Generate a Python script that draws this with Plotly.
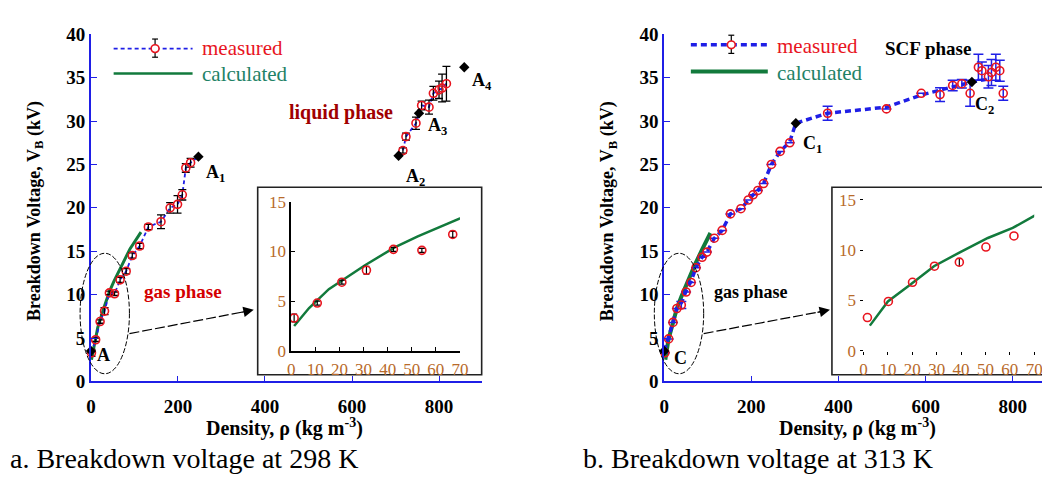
import plotly.graph_objects as go

# ---------------- data ----------------
# Panel a (298 K)
a_gas_rho = [1.2, 10.8, 21, 31.2, 42.4, 54.2, 67, 81, 95, 112, 132, 161, 182, 199, 210, 218, 229]
a_gas_V   = [3.3, 4.8, 6.9, 8.1, 10.2, 10.1, 11.7, 12.7, 14.5, 15.6, 17.8, 18.4, 20.0, 20.4, 21.5, 24.6, 25.2]
a_gas_err = [0.4, 0.2, 0.2, 0.4, 0.2, 0.2, 0.3, 0.3, 0.3, 0.3, 0.3, 0.8, 0.6, 1.0, 0.6, 0.5, 0.5]
a_liq_rho = [717, 724, 747, 760, 777, 787, 800, 807, 817]
a_liq_V   = [26.6, 28.2, 29.75, 31.8, 31.6, 33.2, 33.6, 33.8, 34.3]
a_liq_err = [0.3, 0.4, 0.7, 0.5, 0.8, 0.8, 1.0, 1.6, 2.0]
a_crit_rho = [0, 247, 707, 754, 858]
a_crit_V   = [3.5, 25.9, 26.0, 30.9, 36.2]
a_calc_rho = [1.2, 7.4, 15.6, 30.6, 42.9, 52.5, 70, 90, 115]
a_calc_V   = [2.5, 4.3, 6.2, 8.6, 10.4, 11.5, 13.3, 15.3, 17.2]

# Panel b (313 K)
b_meas_rho = [1.6, 10.2, 20.1, 29.1, 39.3, 50.2, 61.7, 73, 87, 98, 115, 133, 152, 176, 193, 204,
              215, 228, 246, 266, 288, 375, 510, 590, 633, 662, 683, 702, 721, 729, 744, 751, 761, 770, 778]
b_meas_V   = [3.3, 4.9, 6.8, 8.4, 8.8, 10.3, 11.4, 13.1, 14.3, 14.9, 16.5, 17.4, 19.3, 19.9, 20.9, 21.5,
              22.0, 22.8, 25.0, 26.5, 27.5, 30.9, 31.4, 33.2, 33.05, 34.1, 34.3, 33.2, 36.2, 35.8, 35.1, 35.6, 36.2, 35.8, 33.2]
b_meas_err = [0, 0, 0, 0, 0.4, 0, 0, 0, 0, 0, 0, 0, 0, 0, 0, 0,
              0, 0, 0, 0, 0, 0.8, 0, 0, 0.8, 0.6, 0.5, 1.5, 1.5, 1.0, 1.3, 1.5, 1.5, 1.2, 0.8]
b_trend_rho = [0, 10, 20, 29, 40, 50, 62, 73, 87, 98, 115, 133, 152, 176, 193, 204, 215, 228, 246, 266,
               288, 302, 375, 510, 590, 660, 706, 740]
b_trend_V   = [3.5, 5.0, 6.8, 8.4, 9.1, 10.4, 11.6, 13.1, 14.3, 14.9, 16.5, 17.4, 19.3, 19.9, 20.9, 21.5,
               22.0, 22.8, 25.0, 26.5, 27.6, 29.75, 30.9, 31.6, 33.0, 33.9, 34.5, 34.8]
b_crit_rho = [0, 302, 706]
b_crit_V   = [3.5, 29.75, 34.5]
b_calc_rho = [2.6, 10, 19.4, 28.9, 39.7, 51, 61.2, 70, 88, 106]
b_calc_V   = [2.5, 4.9, 6.6, 8.4, 9.8, 11.2, 12.2, 13.4, 15.3, 17.1]

main_yticks = [0, 5, 10, 15, 20, 25, 30, 35, 40]
main_xticks = [0, 200, 400, 600, 800]
inset_xticks = [0, 10, 20, 30, 40, 50, 60, 70]
inset_yticks = [0, 5, 10, 15]

# ---------------- figure ----------------
W, H = 1050, 481
def X(p): return p / W
def Y(p): return 1 - p / H

SERIF = "Liberation Serif, Times New Roman, serif"
BLUE = "#1f1fe6"
RED = "#e8141e"
GREEN = "#127a3c"
INSET_TXT = "#b86a2a"

fig = go.Figure()

meas_marker = dict(symbol="circle-open", size=8, color=RED, line=dict(width=1.6))

# panel a main
fig.add_trace(go.Scatter(x=a_calc_rho, y=a_calc_V, mode="lines", line=dict(color=GREEN, width=3),
                         xaxis="x", yaxis="y", cliponaxis=False))
fig.add_trace(go.Scatter(x=a_gas_rho + [a_crit_rho[1]], y=a_gas_V + [a_crit_V[1]], mode="lines",
                         line=dict(color=BLUE, width=1.8, dash="4px,3px"), xaxis="x", yaxis="y"))
fig.add_trace(go.Scatter(x=[a_crit_rho[2]] + a_liq_rho, y=[a_crit_V[2]] + a_liq_V, mode="lines",
                         line=dict(color=BLUE, width=1.8, dash="4px,3px"), xaxis="x", yaxis="y"))
for r, v, e in [(a_gas_rho, a_gas_V, a_gas_err), (a_liq_rho, a_liq_V, a_liq_err)]:
    fig.add_trace(go.Scatter(x=r, y=v, mode="markers", marker=meas_marker, cliponaxis=False,
                             error_y=dict(type="data", array=e, color="black", thickness=1.3, width=4),
                             xaxis="x", yaxis="y"))
fig.add_trace(go.Scatter(x=a_crit_rho, y=a_crit_V, mode="markers", cliponaxis=False,
                         marker=dict(symbol="diamond", size=8, color="black"), xaxis="x", yaxis="y"))

# panel a inset
fig.add_trace(go.Scatter(x=a_calc_rho, y=a_calc_V, mode="lines", line=dict(color=GREEN, width=2.5),
                         xaxis="x2", yaxis="y2"))
fig.add_trace(go.Scatter(x=a_gas_rho, y=a_gas_V, mode="markers", marker=meas_marker,
                         error_y=dict(type="data", array=a_gas_err, color="black", thickness=1.2, width=3),
                         xaxis="x2", yaxis="y2", cliponaxis=False))

# panel b main
fig.add_trace(go.Scatter(x=b_calc_rho, y=b_calc_V, mode="lines", line=dict(color=GREEN, width=4),
                         xaxis="x3", yaxis="y3", cliponaxis=False))
fig.add_trace(go.Scatter(x=b_trend_rho, y=b_trend_V, mode="lines",
                         line=dict(color=BLUE, width=3.5, dash="6px,4px"), xaxis="x3", yaxis="y3",
                         cliponaxis=False))
fig.add_trace(go.Scatter(x=b_meas_rho, y=b_meas_V, mode="markers", marker=meas_marker, cliponaxis=False,
                         error_y=dict(type="data", array=b_meas_err, color=BLUE, thickness=1.5, width=5),
                         xaxis="x3", yaxis="y3"))
fig.add_trace(go.Scatter(x=b_crit_rho, y=b_crit_V, mode="markers", cliponaxis=False,
                         marker=dict(symbol="diamond", size=8, color="black"), xaxis="x3", yaxis="y3"))

# panel b inset
fig.add_trace(go.Scatter(x=b_calc_rho, y=b_calc_V, mode="lines", line=dict(color=GREEN, width=2.5),
                         xaxis="x4", yaxis="y4"))
fig.add_trace(go.Scatter(x=b_meas_rho, y=b_meas_V, mode="markers", marker=meas_marker,
                         error_y=dict(type="data", array=b_meas_err, color="black", thickness=1.2, width=0),
                         xaxis="x4", yaxis="y4", cliponaxis=False))

main_tick_font = dict(family=SERIF, size=19, color="black", weight="bold")
inset_tick_font = dict(family=SERIF, size=17, color=INSET_TXT)

def main_x(dom, rng):
    return dict(domain=dom, range=rng, tickvals=main_xticks, ticks="inside", ticklen=6, tickcolor=BLUE,
                showline=True, linecolor=BLUE, linewidth=1.6, showgrid=False, zeroline=False,
                tickfont=main_tick_font, ticklabelstandoff=7)

def main_y(anchor):
    return dict(domain=[Y(380), Y(17)], range=[0, 40], tickvals=main_yticks, ticks="inside", ticklen=6,
                tickcolor=BLUE, showline=True, linecolor=BLUE, linewidth=1.6, showgrid=False,
                zeroline=False, tickfont=main_tick_font, anchor=anchor, ticksuffix="\u2002")

fig.update_layout(
    width=W, height=H, margin=dict(l=0, r=0, t=0, b=0), showlegend=False,
    paper_bgcolor="white", plot_bgcolor="rgba(0,0,0,0)",
    xaxis=dict(main_x([X(79), X(475)], [0, 898]), anchor="y"),
    yaxis=main_y("x"),
    xaxis3=dict(main_x([X(660), 1.0], [0, 883]), anchor="y3"),
    yaxis3=main_y("x3"),
    xaxis2=dict(domain=[X(282), X(453)], range=[0, 70], tickvals=inset_xticks, anchor="y2",
                ticks="inside", ticklen=4, tickcolor="black", showline=True, linecolor="black",
                linewidth=1.5, showgrid=False, zeroline=False, tickfont=inset_tick_font,
                ticklabelstandoff=2),
    yaxis2=dict(domain=[Y(348), Y(192)], range=[0, 15], tickvals=inset_yticks, anchor="x2",
                ticks="inside", ticklen=4, tickcolor="black", showline=True, linecolor="black",
                linewidth=1.5, showgrid=False, zeroline=False, tickfont=inset_tick_font,
                ticksuffix="\u2009"),
    xaxis4=dict(domain=[X(862), X(1035)], range=[0, 70], tickvals=inset_xticks, anchor="y4",
                ticks="outside", ticklen=3, tickcolor="black", showline=False, showgrid=False,
                zeroline=False, tickfont=inset_tick_font, ticklabelstandoff=0),
    yaxis4=dict(domain=[Y(348), Y(190)], range=[0, 15], tickvals=inset_yticks, anchor="x4",
                ticks="outside", ticklen=3, tickcolor="black", showline=False, showgrid=False,
                zeroline=False, tickfont=inset_tick_font),
)

shapes = []
# inset boxes
shapes.append(dict(type="rect", xref="paper", yref="paper", x0=X(248), x1=X(475), y0=Y(373), y1=Y(177),
                   line=dict(color="#222", width=1.6), layer="below"))
shapes.append(dict(type="rect", xref="paper", yref="paper", x0=X(830), x1=X(1049), y0=Y(373), y1=Y(177),
                   line=dict(color="#222", width=1.6), layer="below"))
# ellipses
for x0, x1 in [(68, 118), (650, 700)]:
    shapes.append(dict(type="circle", xref="paper", yref="paper", x0=X(x0), x1=X(x1), y0=Y(372), y1=Y(246),
                       line=dict(color="black", width=1, dash="5px,2px")))
# arrow shafts (dashed)
for (tx, ty), (hx, hy) in [((118, 330), (240, 306)), ((700, 330), (824, 306))]:
    shapes.append(dict(type="line", xref="paper", yref="paper", x0=X(tx), y0=Y(ty), x1=X(hx), y1=Y(hy),
                       line=dict(color="black", width=1.2, dash="10px,3px")))
# legends
for (lx0, lx1, ly1, ly2, lw, gw, dash) in [(102, 182, 32, 58, 1.8, 2.5, "4px,3px"),
                                            (687, 765, 28, 56, 3.5, 4, "6px,4px")]:
    shapes.append(dict(type="line", xref="paper", yref="paper", x0=X(lx0), x1=X(lx1), y0=Y(ly1), y1=Y(ly1),
                       line=dict(color=BLUE, width=lw, dash=dash)))
    shapes.append(dict(type="line", xref="paper", yref="paper", x0=X(lx0), x1=X(lx1), y0=Y(ly2), y1=Y(ly2),
                       line=dict(color=GREEN, width=gw)))
    cx = (lx0 + lx1) / 2 + 2
    shapes.append(dict(type="line", xref="paper", yref="paper", x0=X(cx), x1=X(cx), y0=Y(ly1 - 10), y1=Y(ly1 + 9),
                       line=dict(color="black", width=1.2)))
    for yy in (ly1 - 10, ly1 + 9):
        shapes.append(dict(type="line", xref="paper", yref="paper", x0=X(cx - 3), x1=X(cx + 3), y0=Y(yy), y1=Y(yy),
                           line=dict(color="black", width=1.2)))
    shapes.append(dict(type="circle", xref="paper", yref="paper", x0=X(cx - 4), x1=X(cx + 4), y0=Y(ly1 + 4),
                       y1=Y(ly1 - 4), fillcolor="white", line=dict(color=RED, width=1.6)))
fig.update_layout(shapes=shapes)

ann = []
def txt(x, y, t, size=16, color="black", bold=True, xanchor="center", angle=0):
    ann.append(dict(xref="paper", yref="paper", x=X(x), y=Y(y), text=t, showarrow=False, xanchor=xanchor,
                    yanchor="middle", textangle=angle, borderpad=0,
                    font=dict(family=SERIF, size=size, color=color, weight="bold" if bold else "normal")))

# arrow heads
for hx, hy, dx, dy in [(244, 305, -14, 3), (828, 305, -14, 3)]:
    ann.append(dict(xref="paper", yref="paper", x=X(hx), y=Y(hy), ax=dx, ay=dy, text="", showarrow=True,
                    arrowhead=2, arrowsize=1.6, arrowwidth=1.3, arrowcolor="black"))

# legend text
txt(191, 31, "measured", 21, RED, False, "left")
txt(191, 59, "calculated", 21, "#1e8266", False, "left")
txt(773, 29, "measured", 21, RED, False, "left")
txt(773, 57, "calculated", 21, "#1e8266", False, "left")

# axis titles
for ycx in (22, 603):
    txt(ycx, 202, "Breakdown Voltage, V<sub>B</sub> (kV)", 18, angle=-90)
txt(275, 428, "Density, ρ (kg m<sup>-3</sup>)", 20)
txt(856, 428, "Density, ρ (kg m<sup>-3</sup>)", 20)

# phase labels
txt(332, 99, "liquid phase", 20, "#a00000")
txt(172, 286, "gas phase", 19, "#d40000")
txt(927, 32, "SCF phase", 19)
txt(748, 287, "gas phase", 18)

# point labels
for x, y, t in [(92, 352, "A"), (205, 163, "A<sub>1</sub>"), (408, 167, "A<sub>2</sub>"),
                (430, 113, "A<sub>3</sub>"), (475, 66, "A<sub>4</sub>"), (677, 355, "C"),
                (810, 132, "C<sub>1</sub>"), (985, 91, "C<sub>2</sub>")]:
    txt(x, y, t, 18)

# captions
txt(-4, 461, "a. Breakdown voltage at 298 K", 28, "black", False, "left")
txt(577, 461, "b. Breakdown voltage at 313 K", 28, "black", False, "left")

fig.update_layout(annotations=ann)
fig.write_html("out.html")
